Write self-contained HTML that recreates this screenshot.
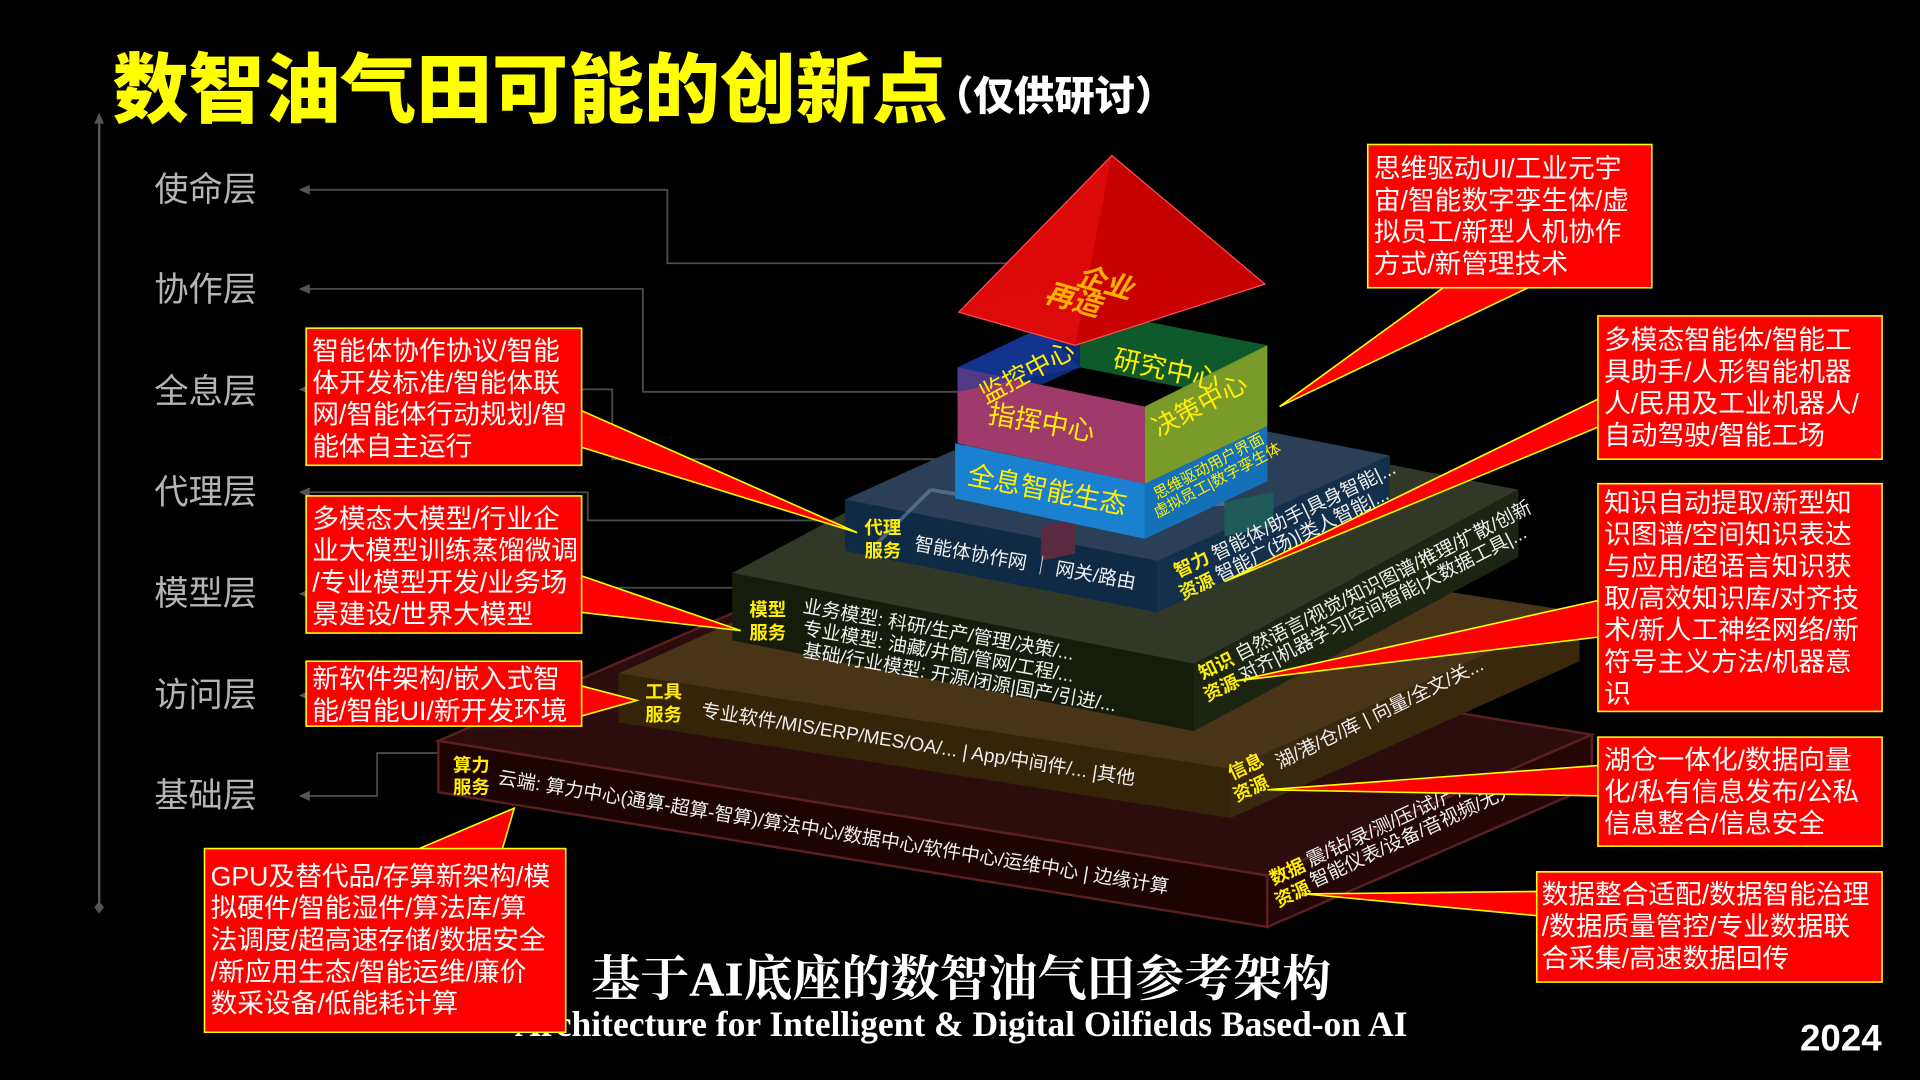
<!DOCTYPE html>
<html><head><meta charset="utf-8"><style>
html,body{margin:0;padding:0;background:#000;overflow:hidden}
svg{display:block}
text{font-family:"Liberation Sans","Noto Sans CJK SC",sans-serif}
.cb{fill:#ff0000;stroke:#ffff00;stroke-width:1.3}
.ct{fill:#fff;font-size:21.8px}
.lay{fill:#b4b4b4;font-size:28px}
.ln{stroke:#4a4a4a;stroke-width:1.5;fill:none}
.y{fill:#ffee00;font-size:15px;font-weight:bold}
.w{fill:#eee;font-size:15.5px}
</style></head><body>
<svg width="1920" height="1080" viewBox="0 0 1568 882" xmlns="http://www.w3.org/2000/svg">
<rect width="1568" height="882" fill="#000"/>

<text x="92" y="95" font-size="62" font-weight="bold" fill="#ffff00" style="font-family:'Noto Sans CJK SC',sans-serif;font-weight:900">数智油气田可能的创新点</text>
<text x="762" y="90" font-size="33" font-weight="bold" fill="#fff" style="font-family:'Noto Sans CJK SC',sans-serif;font-weight:900">（仅供研讨）</text>

<line x1="81" y1="97" x2="81" y2="740" stroke="#555" stroke-width="2"/>
<polygon points="81,92 77,101 85,101" fill="#555"/>
<polygon points="81,736 77,741 81,746 85,741" fill="#555"/>

<g class="lay">
<text x="126" y="164">使命层</text>
<text x="126" y="246">协作层</text>
<text x="126" y="329">全息层</text>
<text x="126" y="411">代理层</text>
<text x="126" y="494">模型层</text>
<text x="126" y="577">访问层</text>
<text x="126" y="659">基础层</text>
</g>
<g class="ln">
<polyline points="250,155 545,155 545,215 848,215"/>
<polyline points="250,236 525,236 525,320 790,320"/>
<polyline points="250,318 500,318 500,375 790,375"/>
<polyline points="250,402 480,402 480,425 700,425"/>
<polyline points="250,485 480,485 480,480 620,480"/>
<polyline points="250,568 515,562"/>
<polyline points="250,650 308,650 308,615 372,615"/>
</g>
<g fill="#555">
<polygon points="244,155 253,151 253,159"/><polygon points="244,236 253,232 253,240"/>
<polygon points="244,318 253,314 253,322"/><polygon points="244,402 253,398 253,406"/>
<polygon points="244,485 253,481 253,489"/><polygon points="244,568 253,564 253,572"/>
<polygon points="244,650 253,646 253,654"/>
</g>

<polygon points="358,605 623,490 1300,600 1035,715" fill="#2c0c0c" stroke="#5a2020" stroke-width="2"/>
<polygon points="358,605 1035,715 1035,757 358,647" fill="#1e0303" stroke="#5a2020" stroke-width="2"/>
<polygon points="1035,715 1300,600 1300,642 1035,757" fill="#250606" stroke="#5a2020" stroke-width="2"/>
<polygon points="505,550 790,422 1290,500 1005,628" fill="#4a3418"/>
<polygon points="505,550 1005,628 1005,668 505,590" fill="#352408"/>
<polygon points="1005,628 1290,500 1290,540 1005,668" fill="#3a280c"/>
<polygon points="598,468 863,326 1240,400 975,542" fill="#323828"/>
<polygon points="598,468 975,542 975,597 598,523" fill="#151c0c"/>
<polygon points="975,542 1240,400 1240,455 975,597" fill="#1c2412"/>
<polygon points="690,408 880,322 1135,372 945,458" fill="#2b4058"/>
<polygon points="690,408 945,458 945,500 690,450" fill="#0f2a45"/>
<polygon points="945,458 1135,372 1135,414 945,500" fill="#12304c"/>
<g stroke="#6a8aa8" stroke-width="3" opacity="0.6">
<line x1="715" y1="445" x2="760" y2="400"/><line x1="760" y1="400" x2="880" y2="420"/>
<line x1="880" y1="420" x2="1020" y2="410"/><line x1="880" y1="420" x2="860" y2="440"/>
</g>
<polygon points="850,430 878,424 878,452 850,458" fill="#5a2a40"/>
<polygon points="1000,410 1040,402 1040,430 1000,438" fill="#1f5a58"/>
<polygon points="780,362 935,395 935,440 780,407" fill="#1a80d0"/>
<polygon points="935,395 1035,348 1035,393 935,440" fill="#1470b8"/>
<polygon points="782,300 882,252 882,300 782,345" fill="#0c2a7a"/>
<polygon points="882,252 1035,282 1035,330 882,300" fill="#0e5a2a"/>
<polygon points="782,300 935,332 935,395 782,362" fill="#a03a6a"/>
<polygon points="782,300 850,268 882,300 782,320" fill="#1a3a9a" opacity="0.6"/>
<polygon points="935,332 1035,282 1035,348 935,395" fill="#7a9a2a"/>
<polygon points="908,127 783,255 910,215" fill="#c00000"/>
<polygon points="908,127 910,215 1033,232" fill="#a80000"/>
<polygon points="783,255 910,215 1033,232 878,282" fill="#e01010" opacity="0.85"/>
<polygon points="908,127 783,255 878,282" fill="#e00a0a" opacity="0.9"/>
<polygon points="908,127 878,282 1033,232" fill="#c80000" opacity="0.9"/>
<polygon points="908,127 783,255 878,282 1033,232" fill="none" stroke="#ff5050" stroke-width="1"/>
<text transform="translate(878,232) rotate(16)" font-size="23" font-weight="bold" fill="#ffb000" font-style="italic">企业</text>
<text transform="translate(852,246) rotate(16)" font-size="23" font-weight="bold" fill="#ffb000" font-style="italic">再造</text>

<text transform="translate(805,330) rotate(-28)" font-size="21" fill="#ffee00">监控中心</text>
<text transform="translate(908,300) rotate(12)" font-size="22" fill="#ffee00">研究中心</text>
<text transform="translate(806,345) rotate(10)" font-size="22" fill="#ffee00">指挥中心</text>
<text transform="translate(946,357) rotate(-28)" font-size="21" fill="#ffee00">决策中心</text>
<text transform="translate(789,395) rotate(11)" font-size="22" fill="#ffee00">全息智能生态</text>
<text transform="translate(945,408) rotate(-28)" font-size="12.5" fill="#ffee00">思维驱动用户界面</text>
<text transform="translate(945,423) rotate(-28)" font-size="12.5" fill="#ffee00">虚拟员工|数字孪生体</text>

<text class="y" x="706" y="436">代理</text><text class="y" x="706" y="455">服务</text>
<text class="w" transform="translate(746,449) rotate(10)">智能体协作网 ｜ 网关/路由</text>
<text class="y" transform="translate(962,472) rotate(-26)">智力</text><text class="y" transform="translate(966,490) rotate(-26)">资源</text>
<text class="w" transform="translate(993,458) rotate(-26)" font-size="14">智能体/助手|具身智能|...</text>
<text class="w" transform="translate(996,475) rotate(-26)" font-size="14">智能广(场)|类人智能|...</text>
<text class="y" x="612" y="503">模型</text><text class="y" x="612" y="522">服务</text>
<text class="w" transform="translate(655,500) rotate(10)">业务模型: 科研/生产/管理/决策/...</text>
<text class="w" transform="translate(655,518) rotate(10)">专业模型: 油藏/井筒/管网/工程/...</text>
<text class="w" transform="translate(655,536) rotate(10)">基础/行业模型: 开源/闭源|国产/引进/...</text>
<text class="y" transform="translate(982,555) rotate(-26)">知识</text><text class="y" transform="translate(986,573) rotate(-26)">资源</text>
<text class="w" transform="translate(1012,540) rotate(-27)" font-size="13">自然语言/视觉/知识图谱/推理/扩散/创新</text>
<text class="w" transform="translate(1015,557) rotate(-27)" font-size="13">对齐|机器学习|空间智能|大数据工具|...</text>
<text class="y" x="527" y="570">工具</text><text class="y" x="527" y="589">服务</text>
<text class="w" transform="translate(572,585) rotate(9)">专业软件/MIS/ERP/MES/OA/... | App/中间件/... |其他</text>
<text class="y" transform="translate(1006,637) rotate(-25)">信息</text><text class="y" transform="translate(1010,655) rotate(-25)">资源</text>
<text class="w" transform="translate(1045,628) rotate(-26)" font-size="14">湖/港/仓/库 | 向量/全文/关...</text>
<text class="y" x="370" y="630">算力</text><text class="y" x="370" y="648">服务</text>
<text class="w" transform="translate(406,640) rotate(9.3)">云端: 算力中心(通算-超算-智算)/算法中心/数据中心/软件中心/运维中心 | 边缘计算</text>
<text class="y" transform="translate(1040,723) rotate(-25)">数据</text><text class="y" transform="translate(1044,741) rotate(-25)">资源</text>
<text class="w" transform="translate(1070,708) rotate(-25)" font-size="13.5">震/钻/录/测/压/试/产/...</text>
<text class="w" transform="translate(1073,725) rotate(-25)" font-size="13.5">智能仪表/设备/音视频/无人机...</text>

<text x="785" y="813" text-anchor="middle" font-size="40" font-weight="bold" fill="#fff" style="font-family:'Liberation Serif','Noto Serif CJK SC',serif">基于AI底座的数智油气田参考架构</text>
<text x="785" y="846" text-anchor="middle" font-size="29" font-weight="bold" fill="#fff" style="font-family:'Liberation Serif',serif">Architecture for Intelligent &amp; Digital Oilfields Based-on AI</text>
<text x="1470" y="858" font-size="30" font-weight="bold" fill="#fff">2024</text>

<g class="cb">
<polygon points="1180,234 1250,234 1045,332"/>
<polygon points="1307,325 1307,348 1000,475"/>
<polygon points="1307,490 1307,520 1010,556"/>
<polygon points="1307,625 1307,650 1035,645"/>
<polygon points="1257,728 1257,748 1065,730"/>
<polygon points="474,335 474,365 700,435"/>
<polygon points="474,470 474,500 605,515"/>
<polygon points="474,560 474,585 520,572"/>
<polygon points="340,694 410,694 420,660"/>
</g>
<g class="cb">
<rect x="1117" y="118" width="232" height="117"/>
<rect x="1305" y="258" width="232" height="117"/>
<rect x="1305" y="395" width="232" height="186"/>
<rect x="1305" y="602" width="232" height="89"/>
<rect x="1255" y="712" width="282" height="90"/>
<rect x="250" y="268" width="225" height="112"/>
<rect x="250" y="405" width="225" height="112"/>
<rect x="250" y="540" width="225" height="53"/>
<rect x="167" y="693" width="295" height="150"/>
</g>
<g class="ct">
<text x="1122" y="145">思维驱动UI/工业元宇</text><text x="1122" y="171">宙/智能数字孪生体/虚</text><text x="1122" y="197">拟员工/新型人机协作</text><text x="1122" y="223">方式/新管理技术</text>
<text x="1310" y="285">多模态智能体/智能工</text><text x="1310" y="311">具助手/人形智能机器</text><text x="1310" y="337">人/民用及工业机器人/</text><text x="1310" y="363">自动驾驶/智能工场</text>
<text x="1310" y="418">知识自动提取/新型知</text><text x="1310" y="444">识图谱/空间知识表达</text><text x="1310" y="470">与应用/超语言知识获</text><text x="1310" y="496">取/高效知识库/对齐技</text><text x="1310" y="522">术/新人工神经网络/新</text><text x="1310" y="548">符号主义方法/机器意</text><text x="1310" y="574">识</text>
<text x="1310" y="628">湖仓一体化/数据向量</text><text x="1310" y="654">化/私有信息发布/公私</text><text x="1310" y="680">信息整合/信息安全</text>
<text x="1259" y="738">数据整合适配/数据智能治理</text><text x="1259" y="764">/数据质量管控/专业数据联</text><text x="1259" y="790">合采集/高速数据回传</text>
<text x="255" y="294">智能体协作协议/智能</text><text x="255" y="320">体开发标准/智能体联</text><text x="255" y="346">网/智能体行动规划/智</text><text x="255" y="372">能体自主运行</text>
<text x="255" y="431">多模态大模型/行业企</text><text x="255" y="457" textLength="217">业大模型训练蒸馏微调</text><text x="255" y="483">/专业模型开发/业务场</text><text x="255" y="509">景建设/世界大模型</text>
<text x="255" y="562">新软件架构/嵌入式智</text><text x="255" y="588">能/智能UI/新开发环境</text>
<text x="172" y="723">GPU及替代品/存算新架构/模</text><text x="172" y="749">拟硬件/智能湿件/算法库/算</text><text x="172" y="775">法调度/超高速存储/数据安全</text><text x="172" y="801">/新应用生态/智能运维/廉价</text><text x="172" y="827">数采设备/低能耗计算</text>
</g>
</svg>
</body></html>
